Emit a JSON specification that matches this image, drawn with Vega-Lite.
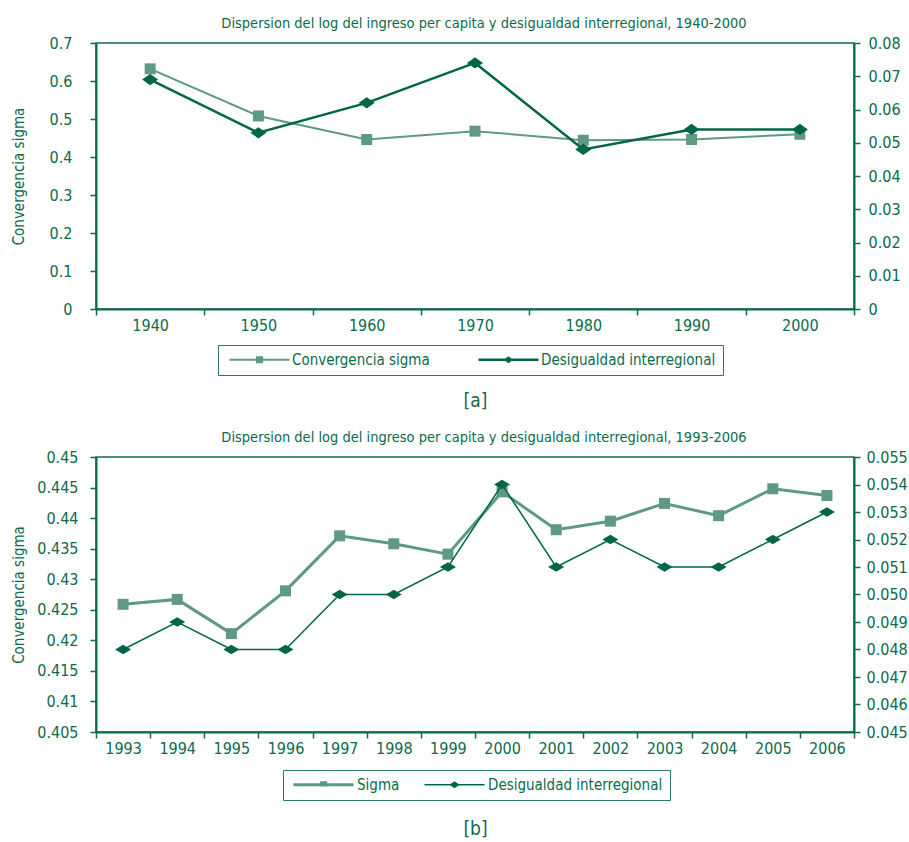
{
  "$schema": "https://vega.github.io/schema/vega-lite/v6.json",
  "background": "white",
  "padding": {"left": 10, "top": 14, "right": 2, "bottom": 2},
  "spacing": 17,
  "resolve": {"scale": {"color": "independent"}, "legend": {"color": "independent"}},
  "config": {
    "font": "DejaVu Sans Condensed",
    "view": {"stroke": "#0b6b4d", "strokeWidth": 1.5},
    "axis": {
      "domainColor": "#0b6b4d", "domainWidth": 2, "tickColor": "#0b6b4d", "tickWidth": 1.5, "tickSize": 6,
      "labelColor": "#0b6b4d", "labelFont": "DejaVu Sans Condensed", "labelFontSize": 16,
      "titleColor": "#0b6b4d", "titleFont": "DejaVu Sans Condensed", "titleFontWeight": "normal", "titleFontSize": 15,
      "grid": false
    },
    "title": {"color": "#0b6b4d", "font": "DejaVu Sans Condensed", "fontWeight": "normal", "fontSize": 14.5},
    "legend": {
      "labelFont": "DejaVu Sans Condensed", "labelFontSize": 15, "labelColor": "#0b6b4d", "labelLimit": 400,
      "strokeColor": "#2b7b5c", "fillColor": "white", "padding": 7, "title": null,
      "orient": "none", "direction": "horizontal", "columns": 2, "symbolSize": 144, "symbolStrokeWidth": 0
    }
  },
  "datasets": {
    "a": [
      {"anio": "1940", "serie": "Convergencia sigma", "valor": 0.632},
      {"anio": "1950", "serie": "Convergencia sigma", "valor": 0.508},
      {"anio": "1960", "serie": "Convergencia sigma", "valor": 0.446},
      {"anio": "1970", "serie": "Convergencia sigma", "valor": 0.468},
      {"anio": "1980", "serie": "Convergencia sigma", "valor": 0.444},
      {"anio": "1990", "serie": "Convergencia sigma", "valor": 0.446},
      {"anio": "2000", "serie": "Convergencia sigma", "valor": 0.46},
      {"anio": "1940", "serie": "Desigualdad interregional", "valor": 0.069},
      {"anio": "1950", "serie": "Desigualdad interregional", "valor": 0.053},
      {"anio": "1960", "serie": "Desigualdad interregional", "valor": 0.062},
      {"anio": "1970", "serie": "Desigualdad interregional", "valor": 0.074},
      {"anio": "1980", "serie": "Desigualdad interregional", "valor": 0.048},
      {"anio": "1990", "serie": "Desigualdad interregional", "valor": 0.054},
      {"anio": "2000", "serie": "Desigualdad interregional", "valor": 0.054}
    ],
    "b": [
      {"anio": "1993", "serie": "Sigma", "valor": 0.4259},
      {"anio": "1994", "serie": "Sigma", "valor": 0.4267},
      {"anio": "1995", "serie": "Sigma", "valor": 0.4211},
      {"anio": "1996", "serie": "Sigma", "valor": 0.4281},
      {"anio": "1997", "serie": "Sigma", "valor": 0.4371},
      {"anio": "1998", "serie": "Sigma", "valor": 0.4358},
      {"anio": "1999", "serie": "Sigma", "valor": 0.4341},
      {"anio": "2000", "serie": "Sigma", "valor": 0.4443},
      {"anio": "2001", "serie": "Sigma", "valor": 0.4381},
      {"anio": "2002", "serie": "Sigma", "valor": 0.4395},
      {"anio": "2003", "serie": "Sigma", "valor": 0.4424},
      {"anio": "2004", "serie": "Sigma", "valor": 0.4404},
      {"anio": "2005", "serie": "Sigma", "valor": 0.4448},
      {"anio": "2006", "serie": "Sigma", "valor": 0.4437},
      {"anio": "1993", "serie": "Desigualdad interregional", "valor": 0.048},
      {"anio": "1994", "serie": "Desigualdad interregional", "valor": 0.049},
      {"anio": "1995", "serie": "Desigualdad interregional", "valor": 0.048},
      {"anio": "1996", "serie": "Desigualdad interregional", "valor": 0.048},
      {"anio": "1997", "serie": "Desigualdad interregional", "valor": 0.05},
      {"anio": "1998", "serie": "Desigualdad interregional", "valor": 0.05},
      {"anio": "1999", "serie": "Desigualdad interregional", "valor": 0.051},
      {"anio": "2000", "serie": "Desigualdad interregional", "valor": 0.054},
      {"anio": "2001", "serie": "Desigualdad interregional", "valor": 0.051},
      {"anio": "2002", "serie": "Desigualdad interregional", "valor": 0.052},
      {"anio": "2003", "serie": "Desigualdad interregional", "valor": 0.051},
      {"anio": "2004", "serie": "Desigualdad interregional", "valor": 0.051},
      {"anio": "2005", "serie": "Desigualdad interregional", "valor": 0.052},
      {"anio": "2006", "serie": "Desigualdad interregional", "valor": 0.053}
    ]
  },
  "vconcat": [
    {
      "width": 758, "height": 266,
      "title": {"text": "Dispersion del log del ingreso per capita y desigualdad interregional, 1940-2000", "dx": 9, "offset": 4},
      "data": {"name": "a"},
      "encoding": {
        "x": {"field": "anio", "type": "nominal", "sort": null,
          "scale": {"type": "band", "paddingInner": 0, "paddingOuter": 0},
          "axis": {"title": "[a]", "titleFontSize": 19, "titlePadding": 58, "labelAngle": 0, "tickBand": "extent", "labelPadding": 2}}
      },
      "layer": [
        {
          "transform": [{"filter": "datum.serie === 'Convergencia sigma'"}],
          "encoding": {
            "y": {"field": "valor", "type": "quantitative",
              "scale": {"domain": [0, 0.7], "nice": false, "zero": true},
              "axis": {"orient": "left", "title": "Convergencia sigma", "values": [0, 0.1, 0.2, 0.3, 0.4, 0.5, 0.6, 0.7], "format": "~g", "labelPadding": 18, "minExtent": 52, "maxExtent": 52, "titlePadding": 18}}
          },
          "layer": [
            {"mark": {"type": "line", "color": "#5e9982", "strokeWidth": 2}},
            {"mark": {"type": "point", "filled": true, "shape": "square", "size": 121, "opacity": 1},
              "encoding": {"color": {"field": "serie", "type": "nominal",
                "scale": {"domain": ["Convergencia sigma", "Desigualdad interregional"], "range": ["#5e9982", "#00664a"]},
                "legend": {"legendX": 122, "legendY": 302, "symbolOffset": 27, "labelOffset": 25, "columnPadding": 44,
                  "symbolType": {"expr": "datum.value === 'Convergencia sigma' ? 'M-5,-0.17H5V0.17H-5Z M-0.6,-0.6H0.6V0.6H-0.6Z' : 'M-5,-0.21H5V0.21H-5Z M0,-0.6L0.8,0L0,0.6L-0.8,0Z'"}}}}
            }
          ]
        },
        {
          "transform": [{"filter": "datum.serie === 'Desigualdad interregional'"}],
          "encoding": {
            "y": {"field": "valor", "type": "quantitative",
              "scale": {"domain": [0, 0.08], "nice": false, "zero": true},
              "axis": {"orient": "right", "title": null, "values": [0, 0.01, 0.02, 0.03, 0.04, 0.05, 0.06, 0.07, 0.08], "format": "~g", "labelPadding": 8}}
          },
          "layer": [
            {"mark": {"type": "line", "color": "#00664a", "strokeWidth": 2.5}},
            {"mark": {"type": "point", "filled": true, "shape": "M0,-0.7L1,0L0,0.7L-1,0Z", "size": 256, "opacity": 1},
              "encoding": {"color": {"field": "serie", "type": "nominal",
                "legend": {"legendX": 122, "legendY": 302, "symbolOffset": 27, "labelOffset": 25, "columnPadding": 44,
                  "symbolType": {"expr": "datum.value === 'Convergencia sigma' ? 'M-5,-0.17H5V0.17H-5Z M-0.6,-0.6H0.6V0.6H-0.6Z' : 'M-5,-0.21H5V0.21H-5Z M0,-0.6L0.8,0L0,0.6L-0.8,0Z'"}}}}
            }
          ]
        }
      ],
      "resolve": {"scale": {"y": "independent"}}
    },
    {
      "width": 758, "height": 275,
      "title": {"text": "Dispersion del log del ingreso per capita y desigualdad interregional, 1993-2006", "dx": 9, "offset": 4},
      "data": {"name": "b"},
      "encoding": {
        "x": {"field": "anio", "type": "nominal", "sort": null,
          "scale": {"type": "band", "paddingInner": 0, "paddingOuter": 0},
          "axis": {"title": "[b]", "titleFontSize": 19, "titlePadding": 63, "labelAngle": 0, "tickBand": "extent", "labelPadding": 2}}
      },
      "layer": [
        {
          "transform": [{"filter": "datum.serie === 'Sigma'"}],
          "encoding": {
            "y": {"field": "valor", "type": "quantitative",
              "scale": {"domain": [0.405, 0.45], "nice": false, "zero": false},
              "axis": {"orient": "left", "title": "Convergencia sigma", "values": [0.405, 0.41, 0.415, 0.42, 0.425, 0.43, 0.435, 0.44, 0.445, 0.45], "format": "~g", "labelPadding": 12, "minExtent": 52, "maxExtent": 52, "titlePadding": 18}}
          },
          "layer": [
            {"mark": {"type": "line", "color": "#5e9982", "strokeWidth": 3}},
            {"mark": {"type": "point", "filled": true, "shape": "square", "size": 121, "opacity": 1},
              "encoding": {"color": {"field": "serie", "type": "nominal",
                "scale": {"domain": ["Sigma", "Desigualdad interregional"], "range": ["#5e9982", "#00664a"]},
                "legend": {"legendX": 187, "legendY": 313, "symbolOffset": 26, "labelOffset": 26, "columnPadding": 21,
                  "symbolType": {"expr": "datum.value === 'Sigma' ? 'M-5,-0.25H5V0.25H-5Z M-0.6,-0.6H0.6V0.3H-0.6Z' : 'M-5,-0.13H5V0.13H-5Z M0,-0.6L0.85,0L0,0.6L-0.85,0Z'"}}}}
            }
          ]
        },
        {
          "transform": [{"filter": "datum.serie === 'Desigualdad interregional'"}],
          "encoding": {
            "y": {"field": "valor", "type": "quantitative",
              "scale": {"domain": [0.045, 0.055], "nice": false, "zero": false},
              "axis": {"orient": "right", "title": null, "values": [0.045, 0.046, 0.047, 0.048, 0.049, 0.05, 0.051, 0.052, 0.053, 0.054, 0.055], "format": ".3f", "labelPadding": 6}}
          },
          "layer": [
            {"mark": {"type": "line", "color": "#00664a", "strokeWidth": 1.5}},
            {"mark": {"type": "point", "filled": true, "shape": "M0,-0.6L1,0L0,0.6L-1,0Z", "size": 256, "opacity": 1},
              "encoding": {"color": {"field": "serie", "type": "nominal",
                "legend": {"legendX": 187, "legendY": 313, "symbolOffset": 26, "labelOffset": 26, "columnPadding": 21,
                  "symbolType": {"expr": "datum.value === 'Sigma' ? 'M-5,-0.25H5V0.25H-5Z M-0.6,-0.6H0.6V0.3H-0.6Z' : 'M-5,-0.13H5V0.13H-5Z M0,-0.6L0.85,0L0,0.6L-0.85,0Z'"}}}}
            }
          ]
        }
      ],
      "resolve": {"scale": {"y": "independent"}}
    }
  ]
}
